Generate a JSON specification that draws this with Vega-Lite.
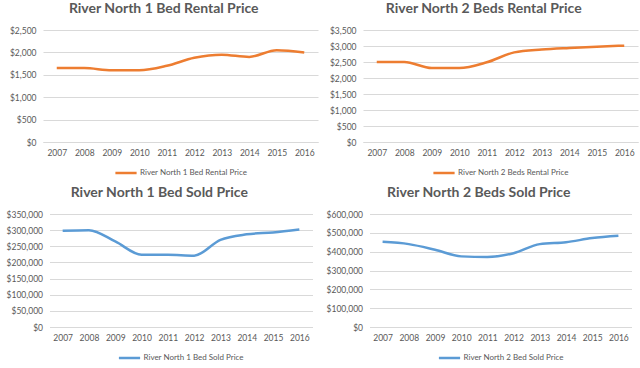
{
  "$schema": "https://vega.github.io/schema/vega-lite/v6.json",
  "padding": {"left": 6, "top": 2, "right": 2, "bottom": 2},
  "background": "white",
  "config": {
    "view": {"stroke": null},
    "axis": {"labelFont": "Lato", "labelFontSize": 8.5, "labelColor": "#595959", "titleFontSize": 0},
    "legend": {"labelFont": "Lato", "labelFontSize": 8, "labelColor": "#595959", "labelOffset": 2, "layout": {"bottom": {"anchor": "middle"}}},
    "title": {"font": "Lato", "fontSize": 14, "fontWeight": "bold", "color": "#595959", "anchor": "middle", "frame": "bounds"},
    "line": {"strokeWidth": 2.5, "interpolate": "monotone"}
  },
  "vconcat": [
    {
      "hconcat": [
        {
          "width": 275, "height": 112,
          "title": {"text": "River North 1 Bed Rental Price", "offset": 10},
          "data": {"values": [
            {"year": "2007", "price": 1650}, {"year": "2008", "price": 1650}, {"year": "2009", "price": 1600},
            {"year": "2010", "price": 1600}, {"year": "2011", "price": 1700}, {"year": "2012", "price": 1880},
            {"year": "2013", "price": 1950}, {"year": "2014", "price": 1900}, {"year": "2015", "price": 2050},
            {"year": "2016", "price": 2000}
          ]},
          "mark": {"type": "line"},
          "encoding": {
            "x": {"field": "year", "type": "ordinal", "title": null, "scale": {"type": "point", "padding": 0.5},
                  "axis": {"labelAngle": 0, "ticks": false, "domainColor": "#d9d9d9", "labelPadding": 6, "grid": false}},
            "y": {"field": "price", "type": "quantitative", "title": null, "scale": {"domain": [0, 2500]},
                  "axis": {"values": [0, 500, 1000, 1500, 2000, 2500], "format": "$,.0f", "domain": false, "ticks": false, "labelPadding": 7, "gridColor": "#d9d9d9"}},
            "color": {"datum": "River North 1 Bed Rental Price", "scale": {"range": ["#ED7D31"]},
                      "legend": {"orient": "bottom", "title": null, "symbolType": "stroke", "symbolStrokeWidth": 3, "symbolSize": 450, "offset": 4}}
          }
        },
        {
          "width": 275, "height": 112,
          "title": {"text": "River North 2 Beds Rental Price", "offset": 10},
          "data": {"values": [
            {"year": "2007", "price": 2500}, {"year": "2008", "price": 2500}, {"year": "2009", "price": 2310},
            {"year": "2010", "price": 2310}, {"year": "2011", "price": 2490}, {"year": "2012", "price": 2800},
            {"year": "2013", "price": 2890}, {"year": "2014", "price": 2940}, {"year": "2015", "price": 2980},
            {"year": "2016", "price": 3010}
          ]},
          "mark": {"type": "line"},
          "encoding": {
            "x": {"field": "year", "type": "ordinal", "title": null, "scale": {"type": "point", "padding": 0.5},
                  "axis": {"labelAngle": 0, "ticks": false, "domainColor": "#d9d9d9", "labelPadding": 6, "grid": false}},
            "y": {"field": "price", "type": "quantitative", "title": null, "scale": {"domain": [0, 3500]},
                  "axis": {"values": [0, 500, 1000, 1500, 2000, 2500, 3000, 3500], "format": "$,.0f", "domain": false, "ticks": false, "labelPadding": 7, "gridColor": "#d9d9d9"}},
            "color": {"datum": "River North 2 Beds Rental Price", "scale": {"range": ["#ED7D31"]},
                      "legend": {"orient": "bottom", "title": null, "symbolType": "stroke", "symbolStrokeWidth": 3, "symbolSize": 450, "offset": 4}}
          }
        }
      ],
      "spacing": 11,
      "resolve": {"scale": {"color": "independent"}, "legend": {"color": "independent"}}
    },
    {
      "hconcat": [
        {
          "width": 263, "height": 113,
          "title": {"text": "River North 1 Bed Sold Price", "offset": 10},
          "data": {"values": [
            {"year": "2007", "price": 298000}, {"year": "2008", "price": 300000}, {"year": "2009", "price": 265000},
            {"year": "2010", "price": 224000}, {"year": "2011", "price": 224000}, {"year": "2012", "price": 221000},
            {"year": "2013", "price": 270000}, {"year": "2014", "price": 287000}, {"year": "2015", "price": 293000},
            {"year": "2016", "price": 302000}
          ]},
          "mark": {"type": "line"},
          "encoding": {
            "x": {"field": "year", "type": "ordinal", "title": null, "scale": {"type": "point", "padding": 0.5},
                  "axis": {"labelAngle": 0, "ticks": false, "domainColor": "#d9d9d9", "labelPadding": 6, "grid": false}},
            "y": {"field": "price", "type": "quantitative", "title": null, "scale": {"domain": [0, 350000]},
                  "axis": {"values": [0, 50000, 100000, 150000, 200000, 250000, 300000, 350000], "format": "$,.0f", "domain": false, "ticks": false, "labelPadding": 7, "gridColor": "#d9d9d9"}},
            "color": {"datum": "River North 1 Bed Sold Price", "scale": {"range": ["#5B9BD5"]},
                      "legend": {"orient": "bottom", "title": null, "symbolType": "stroke", "symbolStrokeWidth": 3, "symbolSize": 450, "offset": 4}}
          }
        },
        {
          "width": 262, "height": 113,
          "title": {"text": "River North 2 Beds Sold Price", "offset": 10},
          "data": {"values": [
            {"year": "2007", "price": 452000}, {"year": "2008", "price": 440000}, {"year": "2009", "price": 410000},
            {"year": "2010", "price": 375000}, {"year": "2011", "price": 372000}, {"year": "2012", "price": 392000},
            {"year": "2013", "price": 440000}, {"year": "2014", "price": 450000}, {"year": "2015", "price": 472000},
            {"year": "2016", "price": 484000}
          ]},
          "mark": {"type": "line"},
          "encoding": {
            "x": {"field": "year", "type": "ordinal", "title": null, "scale": {"type": "point", "padding": 0.5},
                  "axis": {"labelAngle": 0, "ticks": false, "domainColor": "#d9d9d9", "labelPadding": 6, "grid": false}},
            "y": {"field": "price", "type": "quantitative", "title": null, "scale": {"domain": [0, 600000]},
                  "axis": {"values": [0, 100000, 200000, 300000, 400000, 500000, 600000], "format": "$,.0f", "domain": false, "ticks": false, "labelPadding": 7, "gridColor": "#d9d9d9"}},
            "color": {"datum": "River North 2 Bed Sold Price", "scale": {"range": ["#5B9BD5"]},
                      "legend": {"orient": "bottom", "title": null, "symbolType": "stroke", "symbolStrokeWidth": 3, "symbolSize": 450, "offset": 4}}
          }
        }
      ],
      "spacing": 13,
      "resolve": {"scale": {"color": "independent"}, "legend": {"color": "independent"}}
    }
  ],
  "spacing": 8,
  "center": true,
  "resolve": {"scale": {"color": "independent"}, "legend": {"color": "independent"}}
}
